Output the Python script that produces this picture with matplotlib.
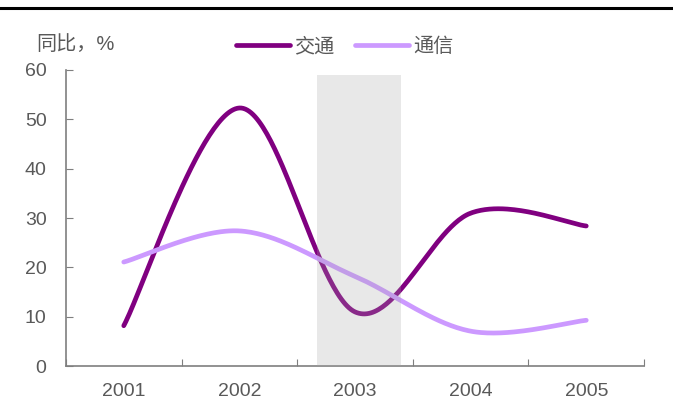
import numpy as np
import matplotlib
matplotlib.use('Agg')
import matplotlib.pyplot as plt
from matplotlib.lines import Line2D

plt.rcParams['font.family'] = ['Liberation Sans', 'Noto Sans CJK SC']

years = ['2001', '2002', '2003', '2004', '2005']
traffic = [8.2, 52.3, 11.0, 31.0, 28.4]
telecom = [21.1, 27.4, 18.2, 7.1, 9.3]
shade_span = (1.67, 2.40)
shade_top = 59

TEXT = '#595959'
AXIS = '#7f7f7f'


def smooth(xs, ys, n=60):
    # smoothed line through the points, bezier segments with catmull-rom style handles
    p = np.column_stack([xs, ys]).astype(float)
    ext = np.vstack([p[0], p, p[-1]])
    out = []
    t = np.linspace(0, 1, n)[:, None]
    for i in range(len(p) - 1):
        p0, p3 = p[i], p[i + 1]
        c1 = p0 + (ext[i + 2] - ext[i]) / 6.0
        c2 = p3 - (ext[i + 3] - ext[i + 1]) / 6.0
        seg = ((1 - t) ** 3 * p0 + 3 * (1 - t) ** 2 * t * c1
               + 3 * (1 - t) * t ** 2 * c2 + t ** 3 * p3)
        out.append(seg if i == 0 else seg[1:])
    out = np.vstack(out)
    return out[:, 0], out[:, 1]


fig = plt.figure(figsize=(6.73, 4.19), dpi=100)
ax = fig.add_axes([0.098, 0.126, 0.859, 0.707])

x = np.arange(len(years))
for vals, color, name in [(traffic, '#800080', '交通'), (telecom, '#cc99ff', '通信')]:
    sx, sy = smooth(x, vals)
    ax.plot(sx, sy, color=color, lw=3.4, solid_capstyle='round', label=name, zorder=2)

ax.axvspan(shade_span[0], shade_span[1], ymin=0, ymax=shade_top / 60,
           color='#a5a5a5', alpha=0.25, lw=0, zorder=3)

ax.set_xlim(-0.5, 4.5)
ax.set_ylim(0, 60)
ax.set_yticks(range(0, 61, 10))
ax.set_xticks(np.arange(-0.5, 5, 1))
ax.set_xticklabels([])
ax.set_xticks(x, minor=True)
ax.set_xticklabels(years, minor=True)
ax.tick_params(axis='x', which='minor', length=0, pad=12, labelsize=14, labelcolor=TEXT)
ax.tick_params(axis='x', which='major', direction='in', length=5, color=AXIS)
ax.tick_params(axis='y', direction='in', length=5, color=AXIS, pad=14,
               labelsize=14, labelcolor=TEXT)
for s in ['top', 'right']:
    ax.spines[s].set_visible(False)
for s in ['left', 'bottom']:
    ax.spines[s].set_color(AXIS)
    ax.spines[s].set_linewidth(1.2)

fig.text(0.054, 0.893, '同比，%', fontsize=14.5, color=TEXT, va='center')

handles = [Line2D([], [], color='#800080', lw=3.4, solid_capstyle='round'),
           Line2D([], [], color='#cc99ff', lw=3.4, solid_capstyle='round')]
fig.legend(handles, ['交通', '通信'], loc='center', bbox_to_anchor=(0.512, 0.888),
           ncol=2, frameon=False, fontsize=14.5, labelcolor=TEXT,
           handlelength=2.7, handletextpad=0.2, columnspacing=1.0)

fig.add_artist(Line2D([0, 1], [0.981, 0.981], color='black', lw=2.2,
                      transform=fig.transFigure))

fig.savefig('out.png', dpi=100)
